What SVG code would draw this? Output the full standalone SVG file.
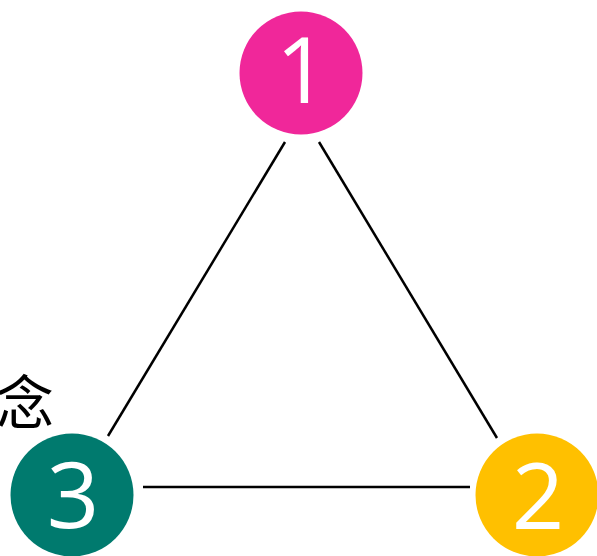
<svg xmlns="http://www.w3.org/2000/svg" width="597" height="556" viewBox="0 0 597 556">
<style>
.num{font-family:"Open Sans","Noto Sans",sans-serif;font-size:92px;fill:#fff;text-anchor:middle}
.edge{stroke:#000;stroke-width:2.5;fill:none}
</style>
<rect width="597" height="556" fill="#fff"/>
<g id="connectors">
<line class="edge" x1="285" y1="142" x2="108" y2="436"/>
<line class="edge" x1="319" y1="142" x2="497" y2="438"/>
<line class="edge" x1="143" y1="487" x2="470" y2="487"/>
</g>
<g id="label">
<text x="-4" y="424" font-family="Noto Sans CJK SC,sans-serif" font-size="58" fill="#000">念</text>
</g>
<g id="node1">
<circle cx="301" cy="73" r="61.5" fill="#F0279A"/>
<text class="num" x="302" y="103">1</text>
</g>
<g id="node2">
<circle cx="537" cy="495" r="61.5" fill="#FFC000"/>
<text class="num" x="538" y="529">2</text>
</g>
<g id="node3">
<circle cx="72" cy="495" r="61.5" fill="#007A6E"/>
<text class="num" x="73" y="528">3</text>
</g>
</svg>
